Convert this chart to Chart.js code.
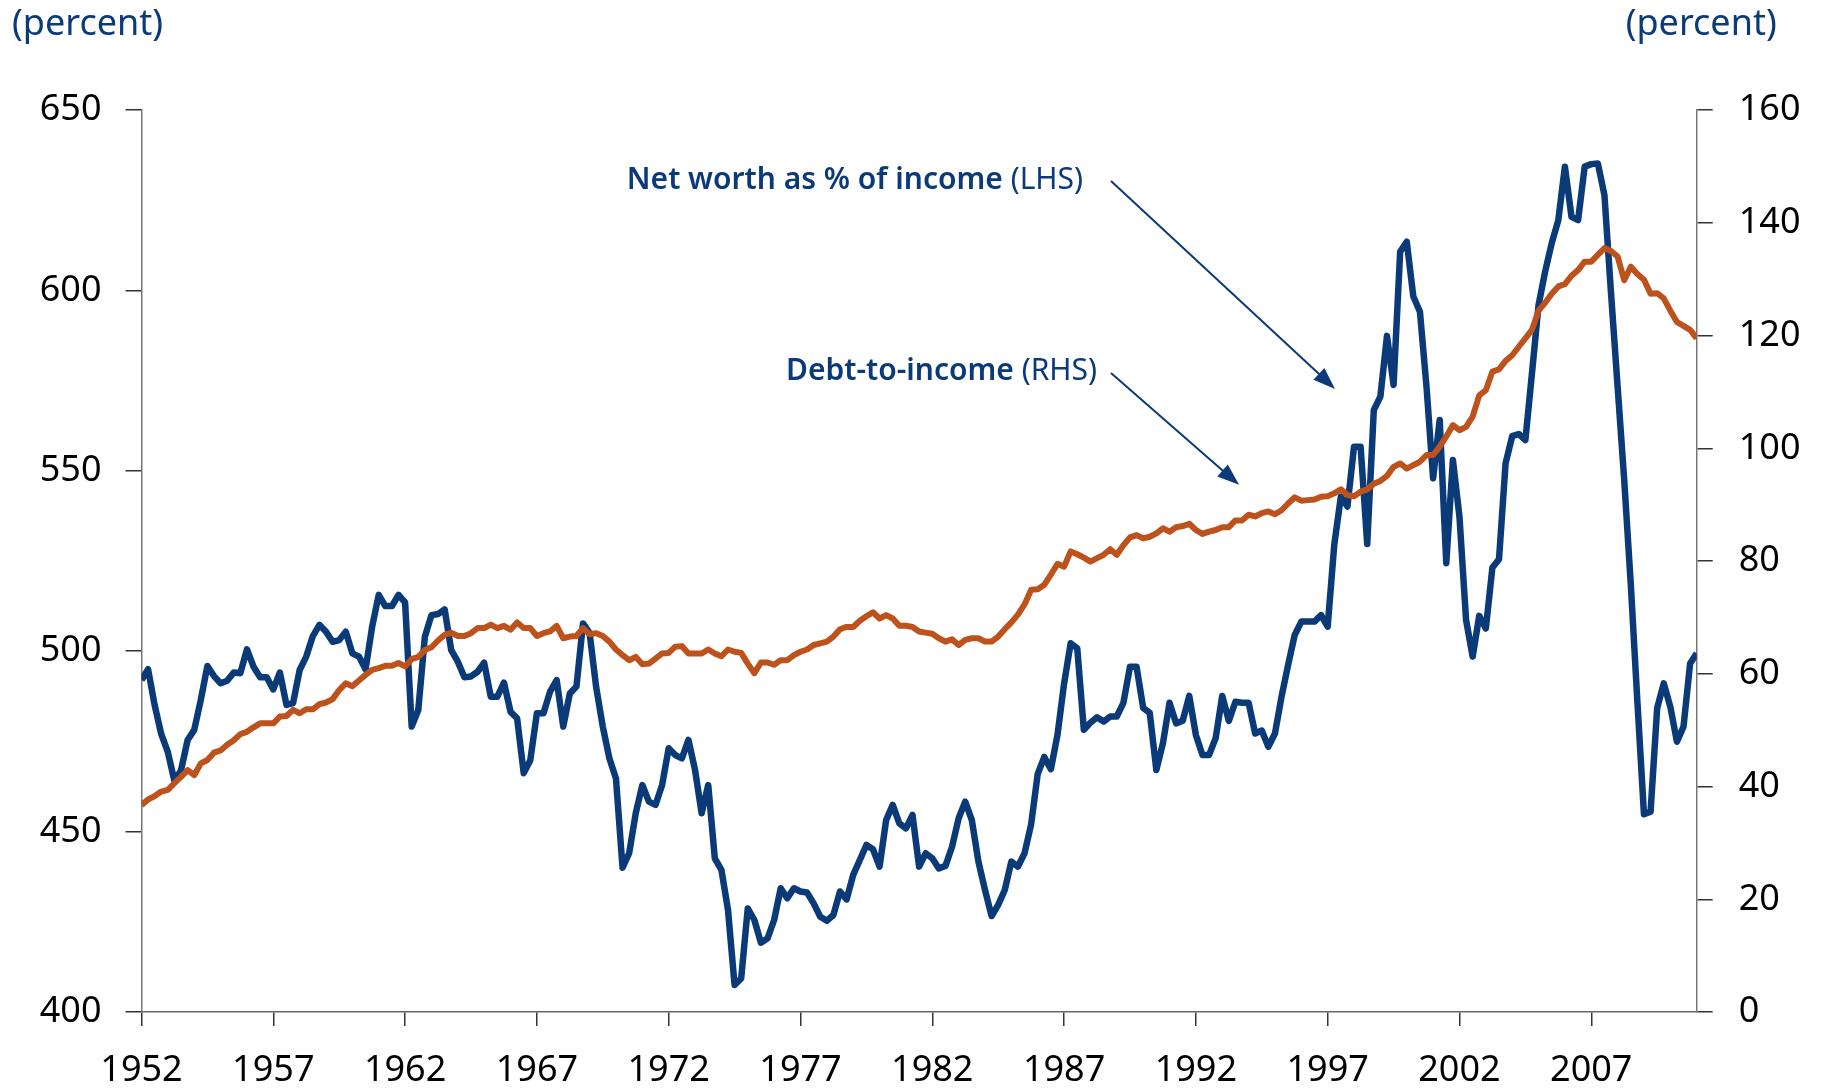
<!DOCTYPE html>
<html>
<head>
<meta charset="utf-8">
<script src="https://cdn.jsdelivr.net/npm/chart.js@4.4.0/dist/chart.umd.min.js"></script>
<style>
  html, body { margin: 0; padding: 0; background: #ffffff; }
  canvas { display: block; }
</style>
</head>
<body>
<canvas id="wealthChart" width="1822" height="1090"></canvas>
<script>
// quarterly series, 1952 Q1 .. 2011 Q1
const firstYear = 1952;
const lastYear = 2011;
const yearTicks = [1952, 1957, 1962, 1967, 1972, 1977, 1982, 1987, 1992, 1997, 2002, 2007];

// net worth as % of income (left axis), one row = two years
const netWorth = [
  492.0, 495.0, 485.0, 477.0,  472.0, 464.0, 467.0, 475.4,
  478.2, 486.5, 495.9, 493.1,  491.1, 491.8, 494.1, 493.9,
  500.5, 495.7, 492.8, 492.8,  489.4, 494.1, 485.1, 485.6,
  494.8, 498.5, 504.2, 507.3,  505.4, 502.6, 503.1, 505.4,
  499.4, 498.5, 495.0, 506.8,  515.6, 512.5, 512.5, 515.6,
  513.5, 479.1, 483.7, 504.0,  510.0, 510.3, 511.6, 500.3,
  497.1, 492.8, 493.0, 494.3,  496.8, 487.4, 487.4, 491.3,
  483.2, 481.4, 466.2, 469.8,  482.8, 482.8, 488.8, 492.0,
  479.1, 488.3, 490.2, 507.7,  505.0, 490.0, 479.1, 470.3,
  464.7, 440.0, 444.0, 455.1,  462.9, 458.3, 457.4, 462.9,
  473.1, 471.2, 470.3, 475.4,  467.1, 455.1, 462.9, 442.6,
  439.4, 428.3, 407.5, 409.3,  428.7, 425.5, 419.2, 420.4,
  425.5, 434.3, 431.5, 434.3,  433.4, 433.1, 430.1, 426.4,
  425.3, 426.9, 433.4, 431.2,  438.0, 442.1, 446.3, 445.1,
  440.3, 453.2, 457.4, 452.3,  450.9, 454.6, 440.3, 444.0,
  442.6, 439.8, 440.5, 445.8,  453.7, 458.3, 453.2, 441.7,
  433.8, 426.6, 429.7, 433.8,  441.7, 440.3, 444.0, 452.0,
  466.0, 470.7, 467.3, 476.8,  491.0, 502.2, 500.8, 478.2,
  480.2, 481.7, 480.5, 481.9,  481.9, 485.7, 495.7, 495.7,
  484.3, 482.9, 467.1, 474.5,  485.7, 480.0, 480.7, 487.6,
  476.8, 471.2, 471.2, 475.9,  487.6, 480.7, 486.0, 485.7,
  485.7, 477.2, 478.0, 473.5,  477.2, 487.4, 496.2, 504.5,
  508.2, 508.2, 508.2, 510.0,  506.8, 529.5, 542.8, 540.1,
  556.7, 556.7, 529.7, 566.8,  570.6, 587.4, 573.8, 610.7,
  613.5, 598.3, 594.1, 573.3,  547.9, 564.1, 524.4, 553.0,
  537.3, 508.7, 498.5, 509.8,  506.3, 523.2, 525.5, 552.1,
  559.6, 560.2, 558.5, 577.0,  595.9, 605.2, 613.1, 619.5,
  634.3, 620.4, 619.5, 634.3,  635.0, 635.2, 626.4, 599.2,
  573.3, 547.5, 518.5, 486.0,  454.8, 455.5, 484.2, 491.1,
  484.6, 474.9, 479.1, 496.6,  499.4
];

// debt-to-income (right axis)
const debtToIncome = [
  36.7, 37.7, 38.3, 39.1,  39.4, 40.6, 41.7, 42.9,
  42.0, 44.1, 44.7, 46.0,  46.4, 47.4, 48.2, 49.3,
  49.7, 50.5, 51.2, 51.2,  51.2, 52.4, 52.5, 53.6,
  53.0, 53.7, 53.7, 54.6,  54.9, 55.5, 57.1, 58.3,
  57.8, 58.8, 59.8, 60.7,  61.0, 61.4, 61.4, 61.9,
  61.3, 62.6, 63.0, 64.2,  64.7, 65.9, 66.9, 67.3,
  66.7, 66.7, 67.2, 68.1,  68.1, 68.7, 68.1, 68.5,
  67.8, 69.1, 68.1, 68.1,  66.7, 67.2, 67.5, 68.5,
  66.3, 66.6, 66.7, 68.1,  67.0, 67.2, 66.7, 65.7,
  64.3, 63.3, 62.4, 63.0,  61.7, 61.8, 62.7, 63.6,
  63.7, 64.8, 64.9, 63.6,  63.6, 63.6, 64.3, 63.6,
  63.1, 64.3, 63.9, 63.7,  61.8, 60.1, 62.0, 62.0,
  61.6, 62.4, 62.4, 63.3,  63.9, 64.3, 65.1, 65.4,
  65.7, 66.6, 67.9, 68.3,  68.3, 69.4, 70.2, 70.9,
  69.8, 70.4, 69.8, 68.5,  68.5, 68.3, 67.5, 67.3,
  67.1, 66.3, 65.7, 66.1,  65.1, 66.0, 66.3, 66.3,
  65.7, 65.7, 66.6, 67.9,  69.1, 70.5, 72.3, 74.9,
  75.0, 75.8, 77.6, 79.5,  79.0, 81.7, 81.2, 80.6,
  79.9, 80.5, 81.1, 82.1,  81.1, 82.8, 84.2, 84.6,
  84.0, 84.3, 84.9, 85.8,  85.2, 86.0, 86.2, 86.6,
  85.5, 84.8, 85.2, 85.5,  86.0, 86.0, 87.2, 87.2,
  88.2, 87.9, 88.5, 88.8,  88.3, 89.0, 90.2, 91.3,
  90.7, 90.8, 90.9, 91.4,  91.5, 92.0, 92.7, 91.7,
  91.5, 92.3, 92.7, 93.7,  94.2, 95.1, 96.7, 97.3,
  96.4, 97.0, 97.6, 98.8,  98.8, 100.3, 102.1, 104.1,
  103.2, 103.8, 105.6, 109.4,  110.3, 113.6, 114.0, 115.5,
  116.5, 118.0, 119.5, 121.0,  124.4, 125.8, 127.4, 128.7,
  129.1, 130.6, 131.6, 133.1,  133.1, 134.3, 135.5, 135.0,
  134.0, 129.8, 132.2, 130.9,  129.9, 127.4, 127.5, 126.6,
  124.4, 122.4, 121.7, 121.0,  119.5
];

const unitLabel = "(percent)";
const navy = "#0b3a78";
const rust = "#bd521c";
const fontFamily = '"Noto Sans", "DejaVu Sans", sans-serif';

// callouts, anchored in data units (x: year, y: left axis)
const notes = [
  { text: "Net worth as % of income", tag: " (LHS)", x: 1987.72, y: 630.6,
    from: [1988.78, 630.3], to: [1997.28, 572.7] },
  { text: "Debt-to-income", tag: " (RHS)", x: 1988.25, y: 577.4,
    from: [1988.78, 577.1], to: [1993.64, 546.1] },
];

function toPoints(values) {
  return values.map((v, i) => ({ x: firstYear + i / 4, y: v }));
}

function drawArrow(ctx, x1, y1, x2, y2) {
  const ang = Math.atan2(y2 - y1, x2 - x1);
  const len = 22, half = 8;
  ctx.beginPath();
  ctx.moveTo(x1, y1);
  ctx.lineTo(x2 - Math.cos(ang) * (len - 2), y2 - Math.sin(ang) * (len - 2));
  ctx.stroke();
  ctx.beginPath();
  ctx.moveTo(x2, y2);
  ctx.lineTo(x2 - Math.cos(ang) * len - Math.sin(ang) * half, y2 - Math.sin(ang) * len + Math.cos(ang) * half);
  ctx.lineTo(x2 - Math.cos(ang) * len + Math.sin(ang) * half, y2 - Math.sin(ang) * len - Math.cos(ang) * half);
  ctx.closePath();
  ctx.fill();
}

// unit labels + arrows with text
const overlay = {
  id: "overlay",
  afterDraw(chart) {
    const ctx = chart.ctx;
    const xs = chart.scales.x;
    const ys = chart.scales.yLeft;
    const area = chart.chartArea;
    ctx.save();
    ctx.fillStyle = navy;
    ctx.strokeStyle = navy;
    ctx.textBaseline = "middle";
    ctx.font = "36px " + fontFamily;
    ctx.textAlign = "left";
    ctx.fillText(unitLabel, 12, 25);
    ctx.textAlign = "right";
    ctx.fillText(unitLabel, area.right + 80, 25);

    notes.forEach((n) => {
      const tx = xs.getPixelForValue(n.x);
      const ty = ys.getPixelForValue(n.y);
      ctx.textAlign = "right";
      ctx.font = "30px " + fontFamily;
      const tagW = ctx.measureText(n.tag).width;
      ctx.fillText(n.tag, tx, ty);
      ctx.font = "600 30px " + fontFamily;
      ctx.fillText(n.text, tx - tagW, ty);
      ctx.lineWidth = 2;
      drawArrow(ctx,
        xs.getPixelForValue(n.from[0]), ys.getPixelForValue(n.from[1]),
        xs.getPixelForValue(n.to[0]), ys.getPixelForValue(n.to[1]));
    });
    ctx.restore();
  },
};

const tickFont = { family: fontFamily, size: 36 };
const tickGrid = { drawOnChartArea: false, drawTicks: true, tickLength: 16, color: "#333", lineWidth: 1.5 };

new Chart(document.getElementById("wealthChart"), {
  type: "line",
  data: {
    datasets: [
      {
        label: "Debt-to-income (RHS)",
        data: toPoints(debtToIncome),
        yAxisID: "yRight",
        borderColor: rust,
        borderWidth: 6,
        pointRadius: 0,
        tension: 0,
        borderJoinStyle: "round",
        order: 0,
      },
      {
        label: "Net worth as % of income (LHS)",
        data: toPoints(netWorth),
        yAxisID: "yLeft",
        borderColor: navy,
        borderWidth: 6.5,
        pointRadius: 0,
        tension: 0,
        borderJoinStyle: "round",
        order: 1,
      },
    ],
  },
  options: {
    responsive: false,
    animation: false,
    devicePixelRatio: 1,
    layout: { padding: { top: 110, left: 0, right: 0, bottom: 0 } },
    plugins: { legend: { display: false }, tooltip: { enabled: false } },
    scales: {
      x: {
        type: "linear",
        min: firstYear,
        max: lastYear,
        afterBuildTicks: (scale) => {
          scale.ticks = yearTicks.map((v) => ({ value: v }));
        },
        afterFit: (scale) => { scale.height = 78; },
        grid: { ...tickGrid, tickLength: 14 },
        border: { display: true, color: "#666", width: 1.5 },
        ticks: {
          autoSkip: false, maxRotation: 0, padding: 23, color: "#000",
          font: tickFont, callback: (v) => String(v),
        },
      },
      yLeft: {
        position: "left",
        min: 400,
        max: 650,
        afterFit: (scale) => { scale.width = 141.5; },
        grid: tickGrid,
        border: { display: true, color: "#777", width: 1.5 },
        ticks: { stepSize: 50, padding: 24, color: "#000", font: tickFont },
      },
      yRight: {
        position: "right",
        min: 0,
        max: 160,
        afterFit: (scale) => { scale.width = 125.3; },
        grid: tickGrid,
        border: { display: true, color: "#777", width: 1.5 },
        ticks: { stepSize: 20, padding: 26, color: "#000", font: tickFont },
      },
    },
  },
  plugins: [overlay],
});
</script>
</body>
</html>
